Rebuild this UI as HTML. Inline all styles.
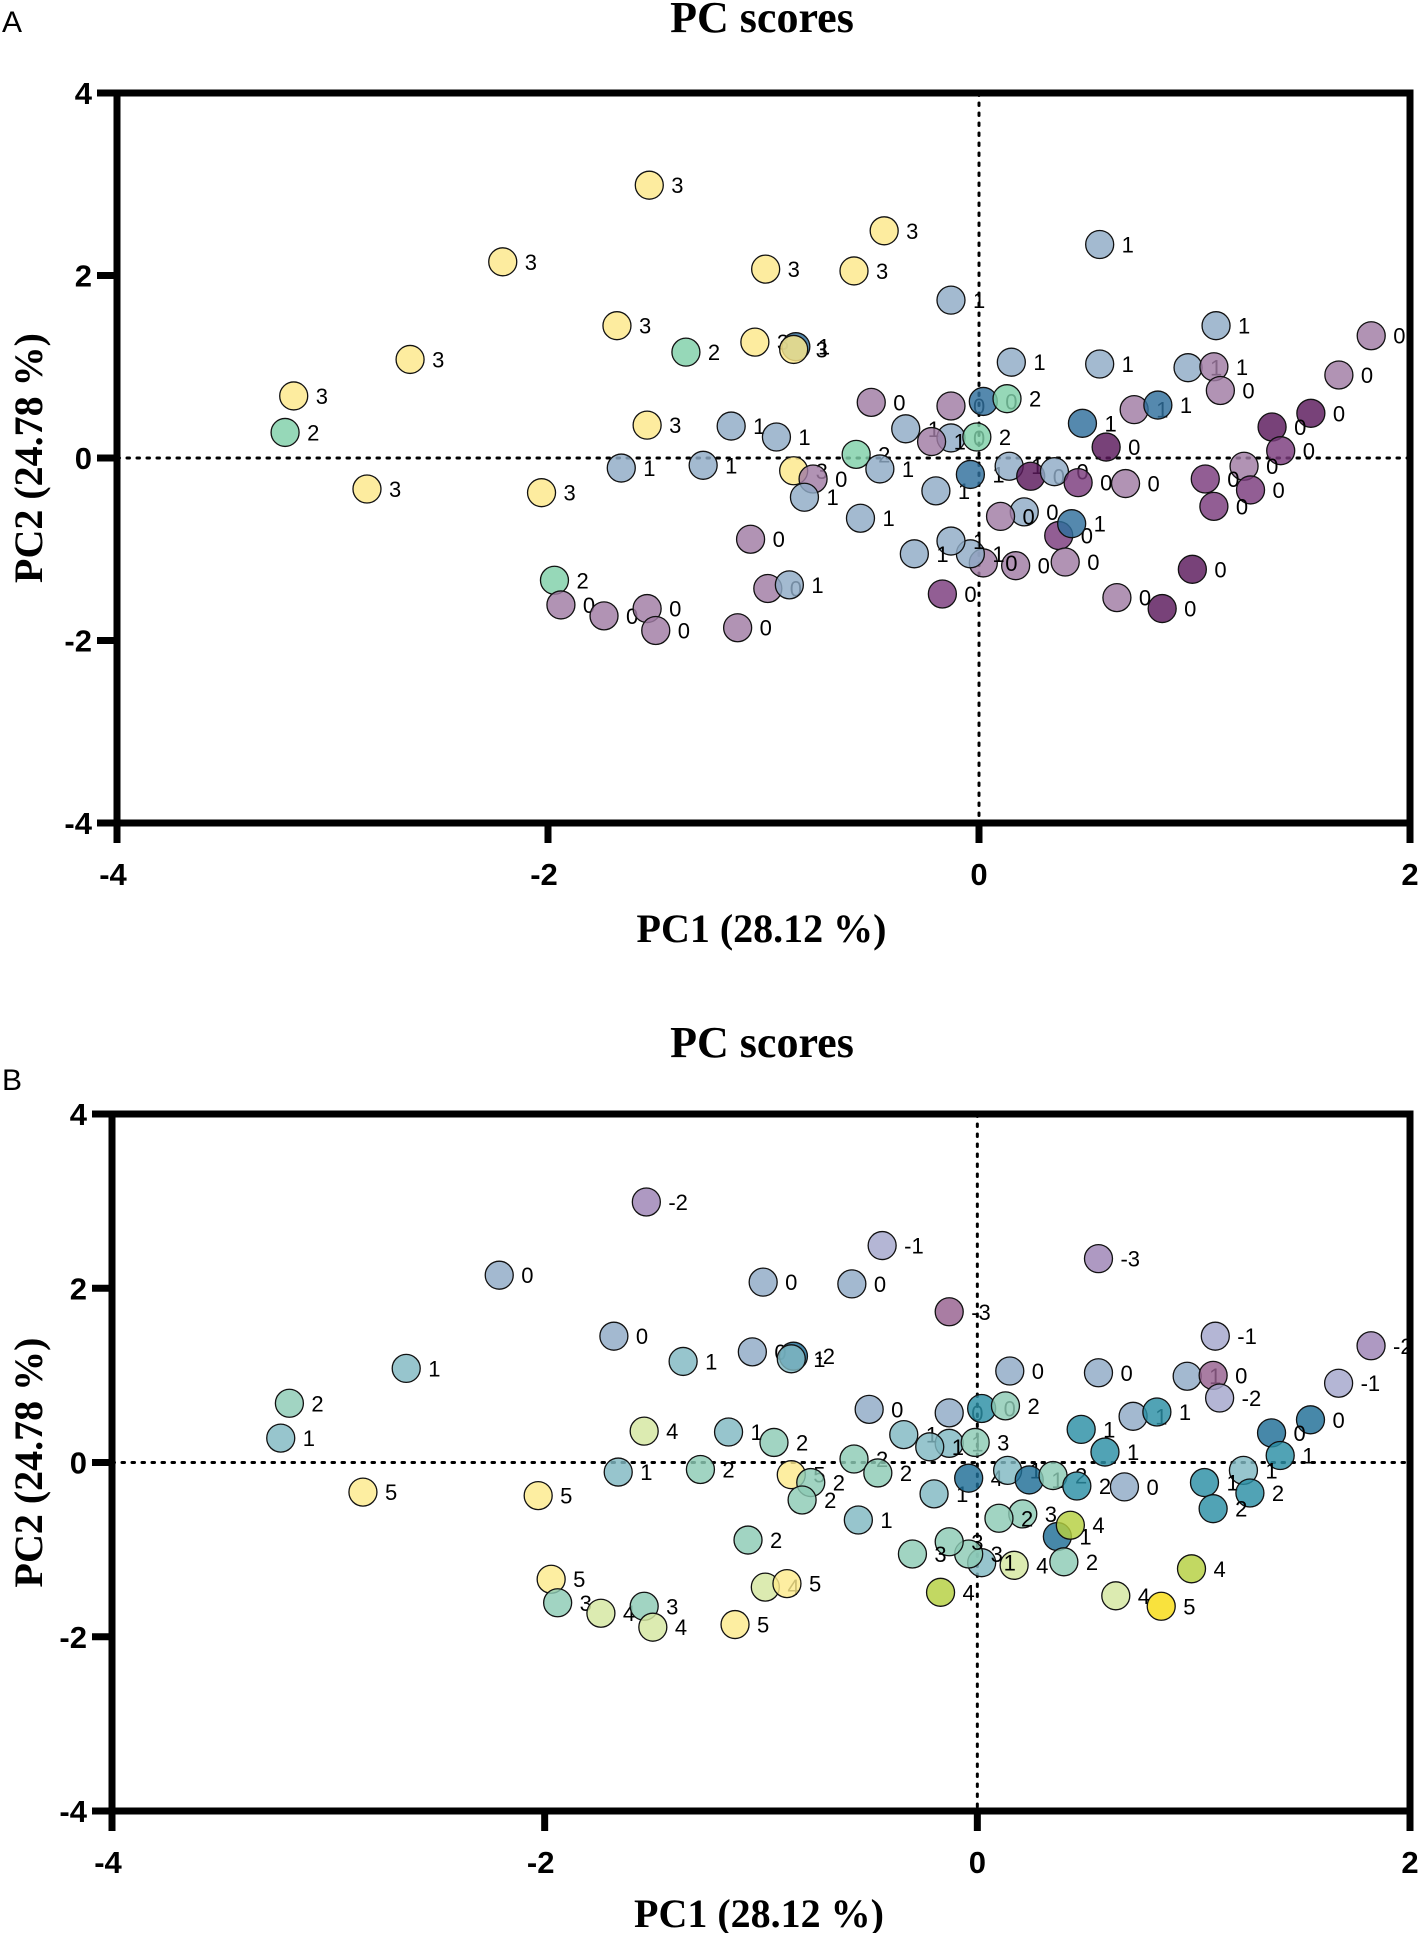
<!DOCTYPE html>
<html><head><meta charset="utf-8">
<style>
html,body{margin:0;padding:0;background:#fff;}
svg{display:block;}
.tick{font-family:"Liberation Sans Narrow","Liberation Sans",sans-serif;font-weight:bold;font-size:31px;}
.ttl{font-family:"Liberation Serif",serif;font-weight:bold;font-size:40px;}
.main{font-family:"Liberation Serif",serif;font-weight:bold;font-size:44px;}
.lbl{font-family:"Liberation Sans",sans-serif;font-size:22px;}
.pan{font-family:"Liberation Sans",sans-serif;font-size:30px;}
</style></head>
<body>
<svg id="chart" width="1421" height="1933" viewBox="0 0 1421 1933" xmlns="http://www.w3.org/2000/svg"></svg>
<script>
// Shared PCA coordinates
const pc1 = [-1.53,-2.21,-2.64,-3.18,-3.22,-2.84,-2.03,-1.68,-1.36,-1.54,-1.66,-1.28,-1.15,-0.94,-0.99,-0.58,-0.44,-1.04,-0.85,-0.86,-0.86,-0.77,-0.81,-0.57,-0.46,-0.55,-0.50,-1.06,-1.97,-1.94,-1.74,-1.54,-1.50,-1.12,-0.98,-0.88,-0.34,-0.13,0.02,0.13,-0.13,-0.22,-0.01,-0.20,-0.04,0.14,0.24,0.35,0.46,0.48,0.59,0.68,0.72,0.83,0.56,0.56,0.15,-0.13,0.97,1.09,1.12,1.10,1.67,1.82,1.54,1.36,1.40,1.23,1.05,1.26,1.09,0.99,0.85,0.64,0.37,0.43,0.21,0.10,0.40,0.17,0.02,-0.04,-0.13,-0.30,-0.17];
const pc2 = [2.99,2.15,1.08,0.68,0.28,-0.34,-0.38,1.45,1.16,0.36,-0.11,-0.08,0.35,0.23,2.07,2.05,2.49,1.27,1.22,1.19,-0.14,-0.23,-0.43,0.04,-0.12,-0.66,0.61,-0.89,-1.34,-1.61,-1.73,-1.65,-1.89,-1.86,-1.43,-1.39,0.32,0.57,0.62,0.65,0.22,0.18,0.23,-0.36,-0.18,-0.09,-0.20,-0.15,-0.27,0.38,0.12,-0.28,0.53,0.58,2.34,1.03,1.05,1.73,0.99,1.0,0.74,1.45,0.91,1.34,0.49,0.34,0.08,-0.09,-0.23,-0.35,-0.53,-1.22,-1.65,-1.53,-0.85,-0.72,-0.59,-0.64,-1.14,-1.18,-1.15,-1.05,-0.91,-1.05,-1.49];
// Panel A labels and colour group
const labelsA = ["3","3","3","3","2","3","3","3","2","3","1","1","1","1","3","3","3","3","1","3","3","0","1","2","1","1","0","0","2","0","0","0","0","0","0","1","1","0","0","2","0","1","2","1","1","1","0","0","0","1","0","0","1","1","1","1","1","1","1","1","0","1","0","0","0","0","0","0","0","0","0","0","0","0","0","1","0","0","0","0","0","1","1","1","0"];
const groupA = ["Y","Y","Y","Y","G","Y","Y","Y","G","Y","L","L","L","L","Y","Y","Y","Y","D","Y","Y","P","L","G","L","L","P","P","G","P","P","P","P","P","P","L","L","P","D","G","L","P","G","L","D","L","K","L","Q","D","K","P","P","D","L","L","L","L","L","P","P","L","P","P","K","K","Q","P","Q","Q","Q","K","K","P","Q","D","L","P","P","P","P","L","L","L","Q"];
// Panel B labels
const labelsB = ["-2","0","1","2","1","5","5","0","1","4","1","2","1","2","0","0","-1","0","-2","1","5","2","2","2","2","1","0","2","5","3","4","3","4","5","4","5","1","0","0","2","1","1","3","1","4","1","1","2","2","1","1","0","1","1","-3","0","0","-3","1","0","-2","-1","-1","-2","0","0","1","1","1","2","2","4","5","4","1","4","3","2","2","4","1","3","3","3","4"];
const groupB = ["m","b","t","g","t","y","y","b","t","l","t","g","t","g","b","b","v","b","U","t","y","g","g","g","g","t","b","g","y","g","l","g","l","y","l","y","t","b","T","g","t","t","g","t","U","t","U","g","T","T","T","b","b","T","m","b","b","r","b","r","v","v","v","m","U","U","T","t","T","T","T","o","Y","l","U","o","g","g","g","l","t","g","g","g","o"];

const colA = {Y:"#fde88a",G:"#7fcfa8",L:"#8fabc6",D:"#2f6f9c",P:"#a07ba4",Q:"#7a3b7c",K:"#5a185c"};
const colB = {m:"#9c83b4",v:"#a4a6cc",b:"#8fa9c6",t:"#80b8c2",T:"#2b8fa5",U:"#1f6e96",g:"#8ccbb4",l:"#d4e6a0",y:"#fcea8c",Y:"#f8dc12",o:"#b5d040",r:"#96608f"};

const NS="http://www.w3.org/2000/svg";
const svg=document.getElementById("chart");
function mk(tag,attrs,parent){const e=document.createElementNS(NS,tag);for(const k in attrs)e.setAttribute(k,attrs[k]);(parent||svg).appendChild(e);return e;}

const xTicks=[-4,-2,0,2];
const yTicks=[4,2,0,-2,-4];

function panel(cfg){
  const g=mk("g",{});
  
  
  const xs=v=>cfg.left+(v+4)*(cfg.right-cfg.left)/6;
  const ys=v=>cfg.top+(4-v)*(cfg.bottom-cfg.top)/8;
  const pl=mk("text",{x:2,y:cfg.letterY,class:"pan"},g);pl.textContent=cfg.letter;
  
  
  const t=mk("text",{x:cfg.titleX,y:cfg.titleY,class:"main","text-anchor":"middle"},g);t.textContent="PC scores";
  
  
  const zx=mk("line",{x1:xs(0),x2:xs(0),y1:cfg.top,y2:cfg.bottom,stroke:"#000","stroke-width":3,"stroke-dasharray":"2.5 7.5","stroke-linecap":"round"},g);
  
  
  const zy=mk("line",{x1:cfg.left,x2:cfg.right,y1:ys(0),y2:ys(0),stroke:"#000","stroke-width":3,"stroke-dasharray":"2.5 7.5","stroke-linecap":"round"},g);
  
  
  const fr=mk("path",{d:`M${cfg.left} ${cfg.top}H${cfg.right}V${cfg.bottom}H${cfg.left}Z`,fill:"none",stroke:"#000","stroke-width":7},g);
  
  
  xTicks.forEach(v=>{
    const l=mk("line",{x1:xs(v),x2:xs(v),y1:cfg.bottom,y2:cfg.bottom+20,stroke:"#000","stroke-width":7},g);
    
    
    const tx=mk("text",{x:xs(v)-(v<0?4:0),y:cfg.bottom+62,class:"tick","text-anchor":"middle"},g);tx.textContent=v;
    
    
  });
  yTicks.forEach(v=>{
    const l=mk("line",{x1:cfg.left-20,x2:cfg.left,y1:ys(v),y2:ys(v),stroke:"#000","stroke-width":7},g);
    
    
    const ty=mk("text",{x:cfg.left-25,y:ys(v)+11,class:"tick","text-anchor":"end"},g);ty.textContent=v;
    
    
  });
  const xt=mk("text",{x:(cfg.left+cfg.right)/2-2,y:cfg.xTitleY,class:"ttl","text-anchor":"middle"},g);xt.textContent="PC1 (28.12 %)";
  
  
  const cy=(cfg.top+cfg.bottom)/2;
  const yt=mk("text",{x:0,y:0,class:"ttl","text-anchor":"middle",transform:`translate(42 ${cy}) rotate(-90)`},g);yt.textContent="PC2 (24.78 %)";
  
  
  for(let i=0;i<pc1.length;i++){
    const px=xs(pc1[i]),py=ys(pc2[i]);
    const c=mk("circle",{cx:px,cy:py,r:14,fill:cfg.colors[cfg.groups[i]],"fill-opacity":0.82,stroke:"#111","stroke-width":1.3},g);
    
    
    const tl=mk("text",{x:px+22,y:py+8,class:"lbl"},g);tl.textContent=cfg.labels[i];
    
    
  }
}
panel({name:"panel-a",letter:"A",letterY:32,titleX:762,titleY:32,left:117,right:1410,top:93,bottom:823,xTitleY:942,labels:labelsA,groups:groupA,colors:colA});
panel({name:"panel-b",letter:"B",letterY:1090,titleX:762,titleY:1057,left:112,right:1410,top:1114,bottom:1811,xTitleY:1927,labels:labelsB,groups:groupB,colors:colB});
</script>
</body></html>
